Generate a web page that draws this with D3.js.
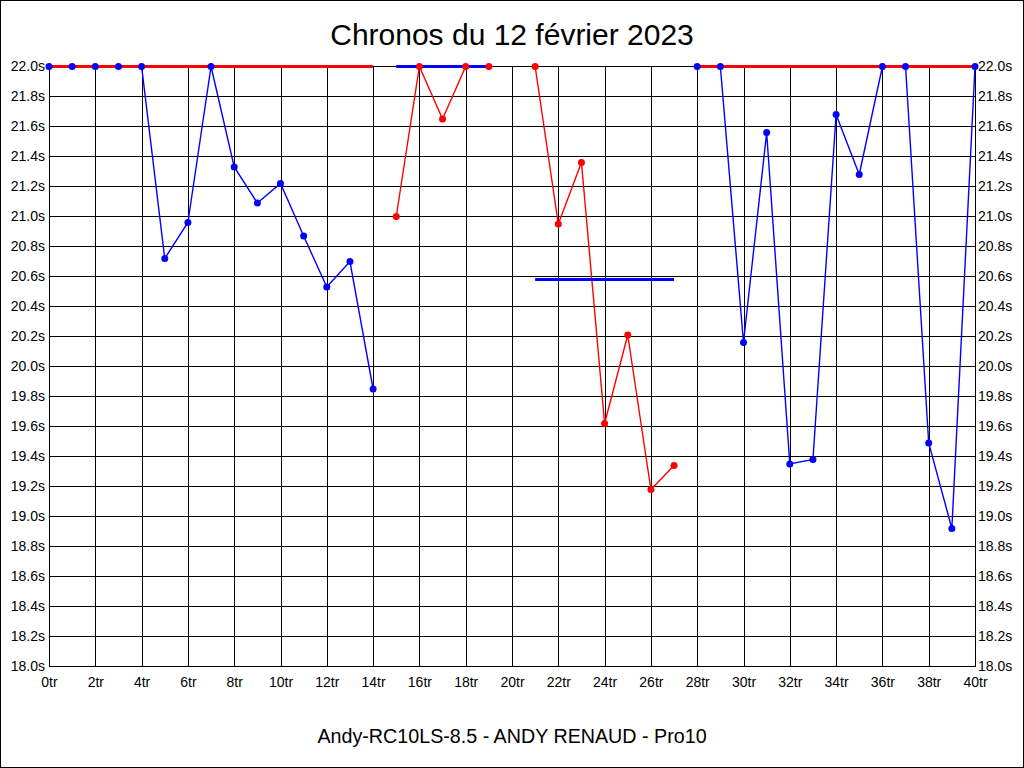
<!DOCTYPE html>
<html>
<head>
<meta charset="utf-8">
<script src="https://cdn.jsdelivr.net/npm/d3@7"></script>
<style>
  html, body { margin: 0; padding: 0; background: #fff; }
  svg { display: block; }
  text { font-family: "Liberation Sans", Arial, sans-serif; }
</style>
</head>
<body>
<script>
// ---- Data ----
const titleText = "Chronos du 12 février 2023";
const subtitleText = "Andy-RC10LS-8.5 - ANDY RENAUD - Pro10";

const laps = [0,1,2,3,4,5,6,7,8,9,10,11,12,13,14,15,16,17,18,19,20,
              21,22,23,24,25,26,27,28,29,30,31,32,33,34,35,36,37,38,39,40];

// lap times (s), null = not part of this series
const blueTimes = [22.0,22.0,22.0,22.0,22.0,20.72,20.96,22.0,21.33,21.09,21.22,20.87,20.53,20.70,19.85,
                   null,null,null,null,null,null,null,null,null,null,null,null,null,
                   22.0,22.0,20.16,21.56,19.35,19.38,21.68,21.28,22.0,22.0,19.49,18.92,22.0];
const redTimes  = [null,null,null,null,null,null,null,null,null,null,null,null,null,null,null,
                   21.0,22.0,21.65,22.0,22.0,null,22.0,20.95,21.36,19.62,20.21,19.18,19.34,
                   null,null,null,null,null,null,null,null,null,null,null,null,null];

// reference (horizontal) segments
const refStart  = [0, 15, 21, 28];
const refEnd    = [14, 19, 27, 40];
const refValue  = [22.0, 22.0, 20.58, 22.0];
const refSeries = ["red", "blue", "blue", "red"];

const xTicks = [0,2,4,6,8,10,12,14,16,18,20,22,24,26,28,30,32,34,36,38,40];
const yTicks = [18.0,18.2,18.4,18.6,18.8,19.0,19.2,19.4,19.6,19.8,20.0,
                20.2,20.4,20.6,20.8,21.0,21.2,21.4,21.6,21.8,22.0];

const colors = { blue: "#0000ff", red: "#ff0000" };

// ---- Layout ----
const W = 1024, H = 768;
const plot = { left: 49, right: 975, top: 66, bottom: 666 };

const svg = d3.select("body").append("svg").attr("width", W).attr("height", H);

svg.append("rect").attr("x", 0.5).attr("y", 0.5).attr("width", W - 1).attr("height", H - 1)
  .attr("fill", "#fff").attr("stroke", "#000").attr("stroke-width", 1);

const x = d3.scaleLinear().domain([0, 40]).range([plot.left, plot.right]);
const y = d3.scaleLinear().domain([18, 22]).range([plot.bottom, plot.top]);

// grid
const grid = svg.append("g").attr("shape-rendering", "crispEdges");
grid.selectAll("line.v").data(xTicks).join("line")
  .attr("x1", d => Math.round(x(d)) + 0.5).attr("x2", d => Math.round(x(d)) + 0.5)
  .attr("y1", plot.top).attr("y2", plot.bottom)
  .attr("stroke", "#000").attr("stroke-width", 1);
grid.selectAll("line.h").data(yTicks).join("line")
  .attr("y1", d => Math.round(y(d)) + 0.5).attr("y2", d => Math.round(y(d)) + 0.5)
  .attr("x1", plot.left).attr("x2", plot.right + 1)
  .attr("stroke", "#000").attr("stroke-width", 1);

// axes (labels)
const fmtY = d => d3.format(".1f")(d) + "s";
const fmtX = d => d + "tr";

const axL = svg.append("g").attr("transform", `translate(${plot.left},0)`)
  .call(d3.axisLeft(y).tickValues(yTicks).tickFormat(fmtY).tickSize(0).tickPadding(4));
const axR = svg.append("g").attr("transform", `translate(${plot.right},0)`)
  .call(d3.axisRight(y).tickValues(yTicks).tickFormat(fmtY).tickSize(0).tickPadding(3));
const axB = svg.append("g").attr("transform", `translate(0,${plot.bottom})`)
  .call(d3.axisBottom(x).tickValues(xTicks).tickFormat(fmtX).tickSize(0).tickPadding(11));

[axL, axR, axB].forEach(g => {
  g.select(".domain").remove();
  g.selectAll("text").attr("font-family", "'Liberation Sans', Arial, sans-serif")
    .attr("font-size", 14).attr("fill", "#000");
});

const lineLayer = svg.append("g");
const refLayer = svg.append("g");
const markLayer = svg.append("g");

// reference segments
refLayer.selectAll("line").data(refStart.map((s, i) => i)).join("line")
  .attr("x1", i => x(refStart[i])).attr("x2", i => x(refEnd[i]))
  .attr("y1", i => y(refValue[i]) + 0.5).attr("y2", i => y(refValue[i]) + 0.5)
  .attr("stroke", i => colors[refSeries[i]]).attr("stroke-width", 3);

// series
function drawSeries(values, color) {
  const pts = laps.map((l, i) => ({ lap: l, v: values[i] }));
  const line = d3.line().defined(d => d.v != null).x(d => x(d.lap)).y(d => y(d.v) + 0.5);
  lineLayer.append("path").datum(pts).attr("d", line)
    .attr("fill", "none").attr("stroke", color).attr("stroke-width", 1.4);
  markLayer.append("g").selectAll("circle").data(pts.filter(d => d.v != null)).join("circle")
    .attr("cx", d => x(d.lap)).attr("cy", d => y(d.v) + 0.5).attr("r", 3.5)
    .attr("fill", color);
}
drawSeries(blueTimes, colors.blue);
drawSeries(redTimes, colors.red);

// titles
svg.append("text").attr("x", 512).attr("y", 45).attr("text-anchor", "middle")
  .attr("font-size", 30).attr("fill", "#000").text(titleText);
svg.append("text").attr("x", 512).attr("y", 743).attr("text-anchor", "middle")
  .attr("font-size", 19.7).attr("fill", "#000").text(subtitleText);
</script>
</body>
</html>
